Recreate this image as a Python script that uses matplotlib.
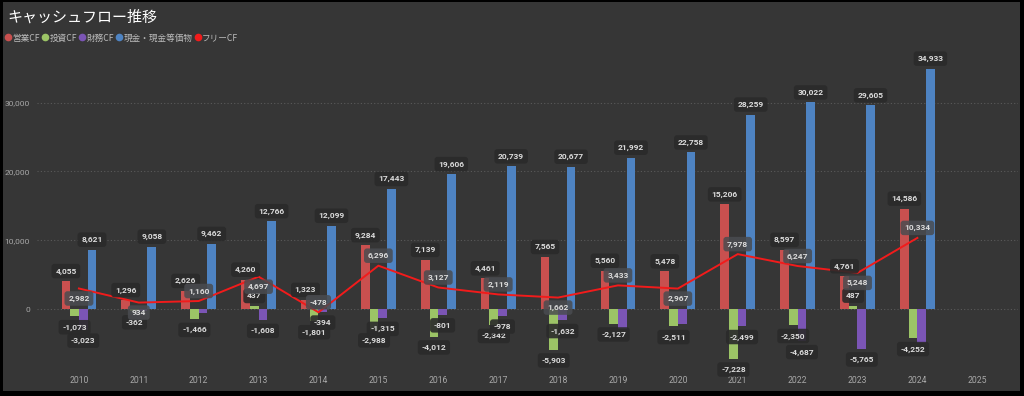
import matplotlib
matplotlib.use("Agg")
import matplotlib.pyplot as plt
from matplotlib.lines import Line2D
from matplotlib.patches import Rectangle
import numpy as np

# ── Data ─────────────────────────────────────────────────────────────────────
years = [str(y) for y in range(2010, 2026)]
operating_cf = [4055, 1296, 2626, 4260, 1323, 9284, 7139, 4461, 7565, 5560,
                5478, 15206, 8597, 4761, 14586]
investing_cf = [-1073, -362, -1466, 437, -1801, -2988, -4012, -2342, -5903,
                -2127, -2511, -7228, -2350, 487, -4252]
financing_cf = [-3023, -250, -540, -1608, -394, -1315, -801, -978, -1632,
                -2870, -2200, -2499, -4687, -5765, -4960]
financing_shown = [True, False, False, True, True, True, True, True, True,
                   False, False, True, True, True, False]
cash = [8621, 9058, 9462, 12766, 12099, 17443, 19606, 20739, 20677, 21992,
        22758, 28259, 30022, 29605, 34933]
free_cf = [2982, 934, 1160, 4697, -478, 6296, 3127, 2119, 1662, 3433,
           2967, 7978, 6247, 5248, 10334]

# label side for free CF (1 = above point, -1 = below)
FCF_SIDE = [-1, -1, 1, -1, 1, 1, 1, 1, -1, 1, -1, 1, 1, -1, 1]

# ── Style ────────────────────────────────────────────────────────────────────
BG = "#363636"
C_OP, C_INV, C_FIN, C_CASH, C_FCF = "#C9504F", "#9CC466", "#7B55B5", "#4E83C2", "#F21B1B"
NUM_FONT = ["Roboto", "DejaVu Sans"]
JP_FONT = ["Noto Sans CJK JP", "DejaVu Sans"]

fig = plt.figure(figsize=(10.24, 3.96), dpi=100)
fig.patch.set_facecolor("black")
fig.add_artist(Rectangle((3 / 1024, 5 / 396), 1017 / 1024, 389 / 396,
                         transform=fig.transFigure, facecolor=BG,
                         edgecolor="none", zorder=0))

# axes placed so that 0 sits at y=309 px, 10k step = 68.8 px
ymin, ymax = -9000, 37000
px_per_unit = 68.8 / 10000
bottom_px = 309 + (-ymin) * px_per_unit
height_px = (ymax - ymin) * px_per_unit
ax = fig.add_axes([37 / 1024, (396 - bottom_px) / 396, 981 / 1024, height_px / 396])
ax.set_facecolor("none")
ax.set_ylim(ymin, ymax)
ax.set_xlim(-0.70, 15.68)

x = np.arange(len(operating_cf))
w = 0.145
series = [(operating_cf, C_OP, -1.5), (investing_cf, C_INV, -0.5),
          (financing_cf, C_FIN, 0.5), (cash, C_CASH, 1.5)]
for vals, col, off in series:
    ax.bar(x + off * w, vals, width=w, color=col, zorder=2, linewidth=0)

ax.plot(x, free_cf, color=C_FCF, linewidth=1.4, zorder=3)

# ── Data labels ──────────────────────────────────────────────────────────────
def label(xp, v, dy, box="#2a2a2a", alpha=0.9):
    ax.annotate(f"{v:,}", (xp, v), xytext=(0, dy), textcoords="offset points",
                ha="center", va="center", fontsize=6, fontweight="bold",
                color="#dcdcdc", family=NUM_FONT, zorder=5,
                bbox=dict(boxstyle="round,pad=0.45,rounding_size=0.35",
                          facecolor=box, edgecolor="none", alpha=alpha))

for vals, col, off in series:
    for i, v in enumerate(vals):
        if vals is financing_cf and not financing_shown[i]:
            continue
        label(i + off * w, v, 7.2 if v >= 0 else -7.8)

for i, v in enumerate(free_cf):
    label(i, v, 7.2 * FCF_SIDE[i], box="#4a4c50", alpha=0.85)

# ── Axes styling ─────────────────────────────────────────────────────────────
ax.set_yticks([0, 10000, 20000, 30000])
ax.set_yticklabels([f"{t:,}" for t in [0, 10000, 20000, 30000]],
                   family=NUM_FONT, fontsize=6, color="#a8a8a8")
ax.set_xticks(np.arange(len(years)))
ax.set_xticklabels(years, family=NUM_FONT, fontsize=6.2, color="#a8a8a8")
ax.tick_params(axis="y", length=0, pad=5)
ax.tick_params(axis="x", length=0, pad=4)
ax.grid(axis="y", color="#5a5a5a", linestyle=(0, (1, 2)), linewidth=0.8, zorder=1)
for s in ax.spines.values():
    s.set_visible(False)

# ── Title & legend ───────────────────────────────────────────────────────────
fig.text(7 / 1024, 1 - 17 / 396, "キャッシュフロー推移", family=JP_FONT,
         fontsize=10.8, color="white", va="center", ha="left")

legend_names = ["営業CF", "投資CF", "財務CF", "現金・現金等価物", "フリーCF"]
legend_cols = [C_OP, C_INV, C_FIN, C_CASH, C_FCF]
handles = [Line2D([], [], marker="o", linestyle="none", markersize=5.5,
                  markerfacecolor=c, markeredgecolor="none") for c in legend_cols]
leg = fig.legend(handles, legend_names, loc="center left",
                 bbox_to_anchor=(6 / 1024, 1 - 38 / 396), ncol=5, frameon=False,
                 handlelength=0.5, handletextpad=0.25, columnspacing=0.35,
                 borderaxespad=0, borderpad=0,
                 prop={"family": JP_FONT, "size": 6.2})
for t in leg.get_texts():
    t.set_color("#bdbdbd")

fig.savefig("out.png", dpi=100, facecolor="black")
